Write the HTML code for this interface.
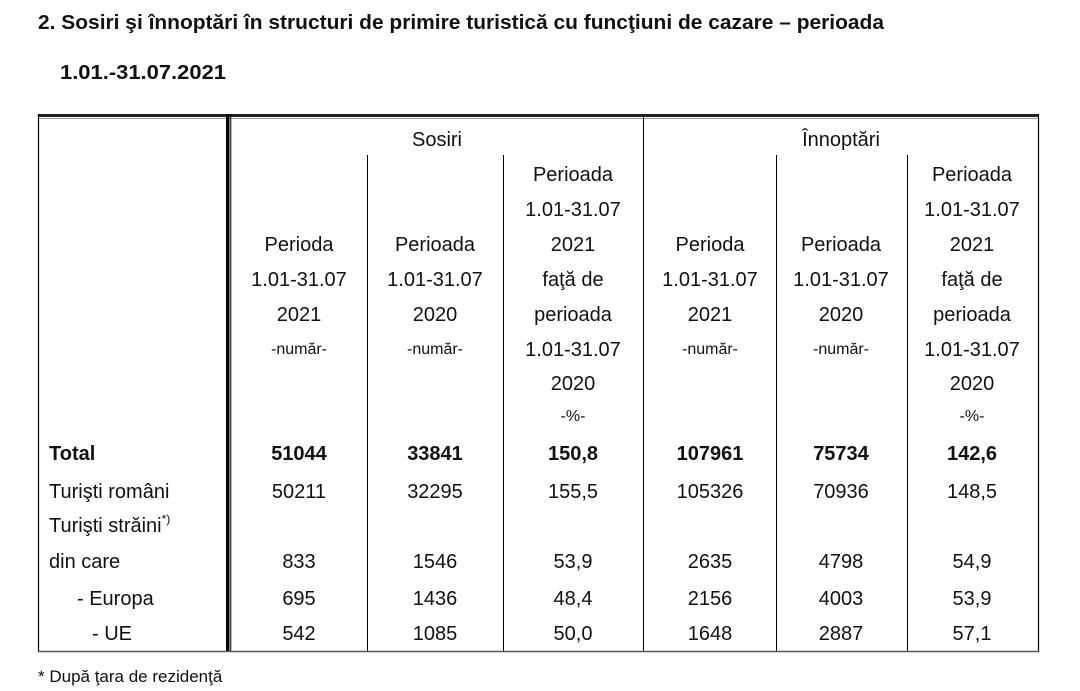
<!DOCTYPE html>
<html><head><meta charset="utf-8"><style>
html,body{margin:0;padding:0;background:#fff}
svg{display:block}
text{font-family:"Liberation Sans",sans-serif;fill:#111}
</style></head><body>
<svg width="1080" height="691" viewBox="0 0 1080 691" xmlns="http://www.w3.org/2000/svg">
<text x="38" y="29" font-size="20" font-weight="bold" textLength="846" lengthAdjust="spacingAndGlyphs">2. Sosiri şi înnoptări în structuri de primire turistică cu funcţiuni de cazare – perioada</text>
<text x="60" y="79" font-size="20" font-weight="bold" textLength="166" lengthAdjust="spacingAndGlyphs">1.01.-31.07.2021</text>
<!-- borders -->
<rect x="38" y="114" width="1001" height="3" fill="#222"/>
<line x1="38" y1="118.5" x2="1039" y2="118.5" stroke="#999" stroke-width="1"/>
<line x1="38.5" y1="114" x2="38.5" y2="652" stroke="#000" stroke-width="1.2"/>
<line x1="1038.5" y1="114" x2="1038.5" y2="652" stroke="#000" stroke-width="1.2"/>
<rect x="226" y="114" width="3.5" height="538" fill="#000"/>
<line x1="230.8" y1="114" x2="230.8" y2="652" stroke="#000" stroke-width="1"/>
<line x1="643.5" y1="114" x2="643.5" y2="652" stroke="#000" stroke-width="1"/>
<line x1="367.5" y1="155" x2="367.5" y2="652" stroke="#000" stroke-width="1"/>
<line x1="503.5" y1="155" x2="503.5" y2="652" stroke="#000" stroke-width="1"/>
<line x1="776.5" y1="155" x2="776.5" y2="652" stroke="#000" stroke-width="1"/>
<line x1="907.5" y1="155" x2="907.5" y2="652" stroke="#000" stroke-width="1"/>
<line x1="38" y1="651.5" x2="1039" y2="651.5" stroke="#555" stroke-width="1.5"/>
<g font-size="20" text-anchor="middle">
<text x="437" y="146">Sosiri</text>
<text x="841" y="146">Înnoptări</text>
<!-- col 3 and 6 -->
<text x="573" y="181">Perioada</text><text x="972" y="181">Perioada</text>
<text x="573" y="216">1.01-31.07</text><text x="972" y="216">1.01-31.07</text>
<text x="573" y="251">2021</text><text x="972" y="251">2021</text>
<text x="573" y="286">faţă de</text><text x="972" y="286">faţă de</text>
<text x="573" y="321">perioada</text><text x="972" y="321">perioada</text>
<text x="573" y="356">1.01-31.07</text><text x="972" y="356">1.01-31.07</text>
<text x="573" y="390">2020</text><text x="972" y="390">2020</text>
<text x="573" y="421" font-size="16">-%-</text><text x="972" y="421" font-size="16">-%-</text>
<!-- cols 1,2,4,5 -->
<text x="299" y="251">Perioda</text><text x="435" y="251">Perioada</text><text x="710" y="251">Perioda</text><text x="841" y="251">Perioada</text>
<text x="299" y="286">1.01-31.07</text><text x="435" y="286">1.01-31.07</text><text x="710" y="286">1.01-31.07</text><text x="841" y="286">1.01-31.07</text>
<text x="299" y="321">2021</text><text x="435" y="321">2020</text><text x="710" y="321">2021</text><text x="841" y="321">2020</text>
<text x="299" y="354" font-size="16">-număr-</text><text x="435" y="354" font-size="16">-număr-</text><text x="710" y="354" font-size="16">-număr-</text><text x="841" y="354" font-size="16">-număr-</text>
<!-- data -->
<g font-weight="bold">
<text x="299" y="460">51044</text><text x="435" y="460">33841</text><text x="573" y="460">150,8</text><text x="710" y="460">107961</text><text x="841" y="460">75734</text><text x="972" y="460">142,6</text>
</g>
<text x="299" y="498">50211</text><text x="435" y="498">32295</text><text x="573" y="498">155,5</text><text x="710" y="498">105326</text><text x="841" y="498">70936</text><text x="972" y="498">148,5</text>
<text x="299" y="568">833</text><text x="435" y="568">1546</text><text x="573" y="568">53,9</text><text x="710" y="568">2635</text><text x="841" y="568">4798</text><text x="972" y="568">54,9</text>
<text x="299" y="605">695</text><text x="435" y="605">1436</text><text x="573" y="605">48,4</text><text x="710" y="605">2156</text><text x="841" y="605">4003</text><text x="972" y="605">53,9</text>
<text x="299" y="640">542</text><text x="435" y="640">1085</text><text x="573" y="640">50,0</text><text x="710" y="640">1648</text><text x="841" y="640">2887</text><text x="972" y="640">57,1</text>
</g>
<g font-size="20">
<text x="49" y="460" font-weight="bold">Total</text>
<text x="49" y="498">Turişti români</text>
<text x="49" y="532">Turişti străini<tspan font-size="12" dy="-9">*)</tspan></text>
<text x="49" y="568">din care</text>
<text x="77" y="605">- Europa</text>
<text x="92" y="640">- UE</text>
</g>
<text x="38" y="682" font-size="17">* După ţara de rezidenţă</text>
</svg>
</body></html>
